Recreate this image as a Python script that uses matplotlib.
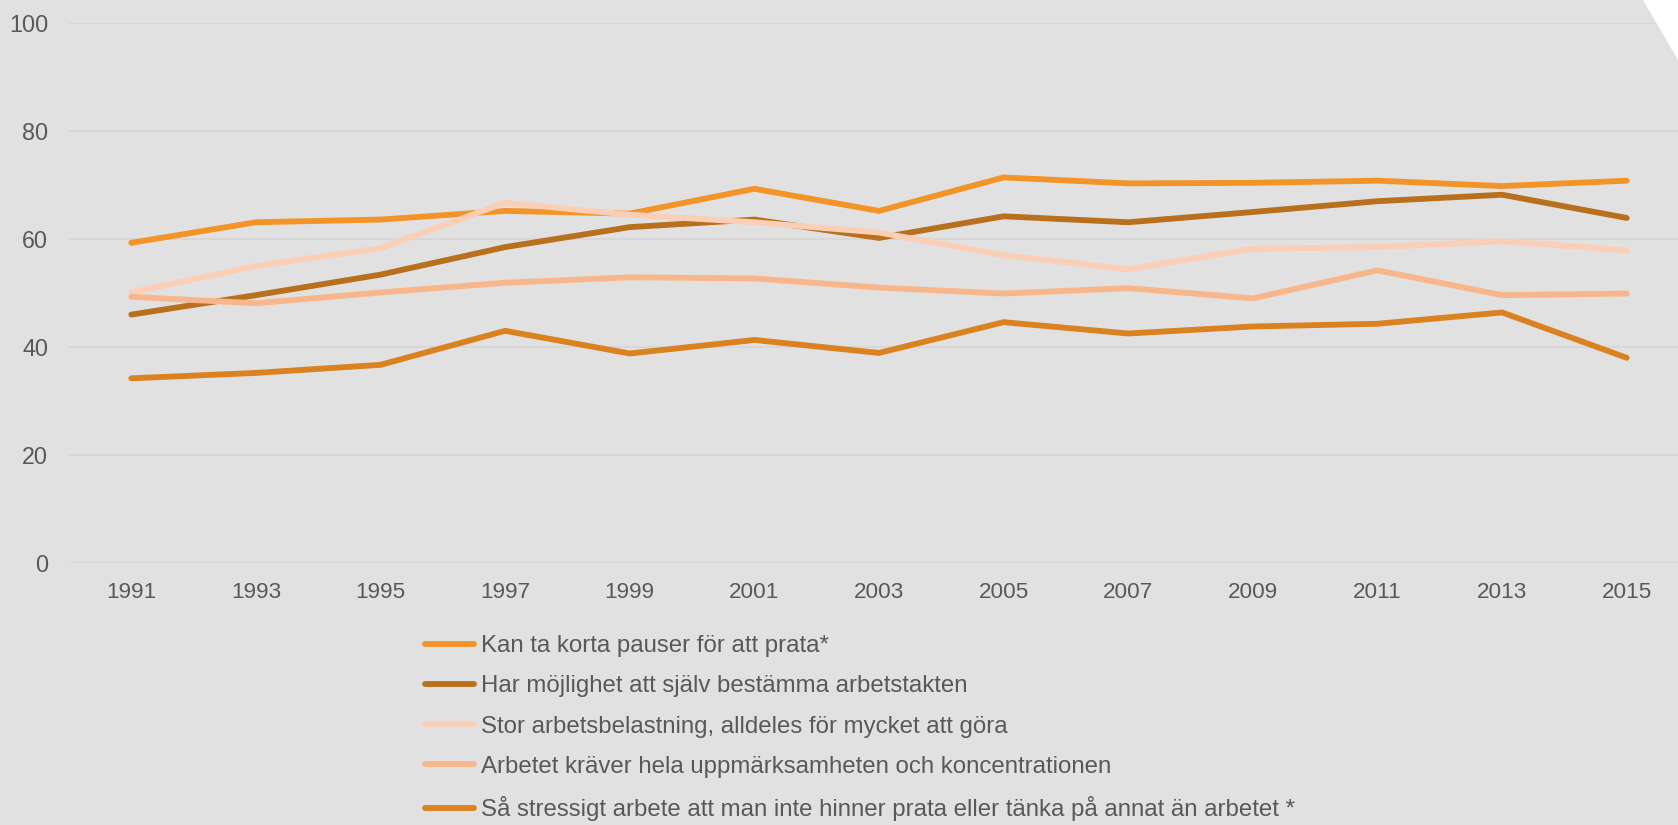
import matplotlib
matplotlib.use("Agg")
import matplotlib.pyplot as plt
from matplotlib.patches import Polygon

years = ["1991", "1993", "1995", "1997", "1999", "2001", "2003",
         "2005", "2007", "2009", "2011", "2013", "2015"]

pauser = [59.3, 63.1, 63.6, 65.2, 64.7, 69.3, 65.2, 71.4, 70.3, 70.4, 70.8, 69.8, 70.8]
arbetstakt = [46.0, 49.6, 53.4, 58.5, 62.2, 63.6, 60.2, 64.2, 63.1, 65.0, 67.0, 68.2, 63.9]
belastning = [50.1, 55.0, 58.3, 66.7, 64.5, 63.1, 61.2, 57.0, 54.4, 58.2, 58.5, 59.6, 57.9]
koncentration = [49.3, 48.1, 50.1, 51.9, 52.9, 52.7, 51.0, 49.9, 50.9, 49.0, 54.2, 49.6, 49.9]
stressigt = [34.2, 35.2, 36.7, 43.0, 38.8, 41.3, 38.9, 44.6, 42.5, 43.8, 44.3, 46.4, 38.0]

labels = [
    "Kan ta korta pauser för att prata*",
    "Har möjlighet att själv bestämma arbetstakten",
    "Stor arbetsbelastning, alldeles för mycket att göra",
    "Arbetet kräver hela uppmärksamheten och koncentrationen",
    "Så stressigt arbete att man inte hinner prata eller tänka på annat än arbetet *",
]
colors = ["#F39428", "#B9701C", "#FACFB5", "#F8B68B", "#DA8220"]
series = [pauser, arbetstakt, belastning, koncentration, stressigt]

plt.rcParams['font.family'] = ['Liberation Sans', 'DejaVu Sans']

W, H = 1678, 825
fig = plt.figure(figsize=(W / 100, H / 100), dpi=100)
bg = "#E1E1E1"
fig.patch.set_facecolor(bg)

left = 69 / W
right = 1689 / W
bottom = (H - 563) / H
top = (H - 23) / H
ax = fig.add_axes([left, bottom, right - left, top - bottom])
ax.set_facecolor(bg)

x = list(range(len(years)))
for vals, c, lab in zip(series, colors, labels):
    ax.plot(x, vals, color=c, lw=4.2, label=lab, solid_capstyle='round',
            solid_joinstyle='miter', clip_on=False)

ax.set_xlim(-0.5, len(years) - 0.5)
ax.set_ylim(0, 100)
ax.set_yticks([0, 20, 40, 60, 80, 100])
ax.set_xticks(x)
ax.set_xticklabels(years)
ax.grid(axis='y', color='#D6D6D6', lw=1.3)
ax.set_axisbelow(True)
for s in ax.spines.values():
    s.set_visible(False)
ax.tick_params(axis='both', length=0, labelcolor='#595959')
ax.tick_params(axis='x', pad=13.5, labelsize=16.2)
ax.tick_params(axis='y', pad=15, labelsize=16.8)

leg = fig.legend(loc='upper left', bbox_to_anchor=(425 / W, (H - 635) / H),
                 frameon=False, fontsize=17.3, handlelength=2.04,
                 handletextpad=0.3, labelspacing=0.76, borderaxespad=0,
                 borderpad=0)
for t in leg.get_texts():
    t.set_color('#595959')
for l in leg.get_lines():
    l.set_linewidth(4.2)
    l.set_solid_capstyle('round')

tri = Polygon([(1643.3 / W, 1.0), (1.0, 1.0), (1.0, 1 - 60 / H)],
              closed=True, transform=fig.transFigure, facecolor='white',
              edgecolor='none', zorder=10)
fig.patches.append(tri)

fig.savefig("out.png", dpi=100, facecolor=bg)
